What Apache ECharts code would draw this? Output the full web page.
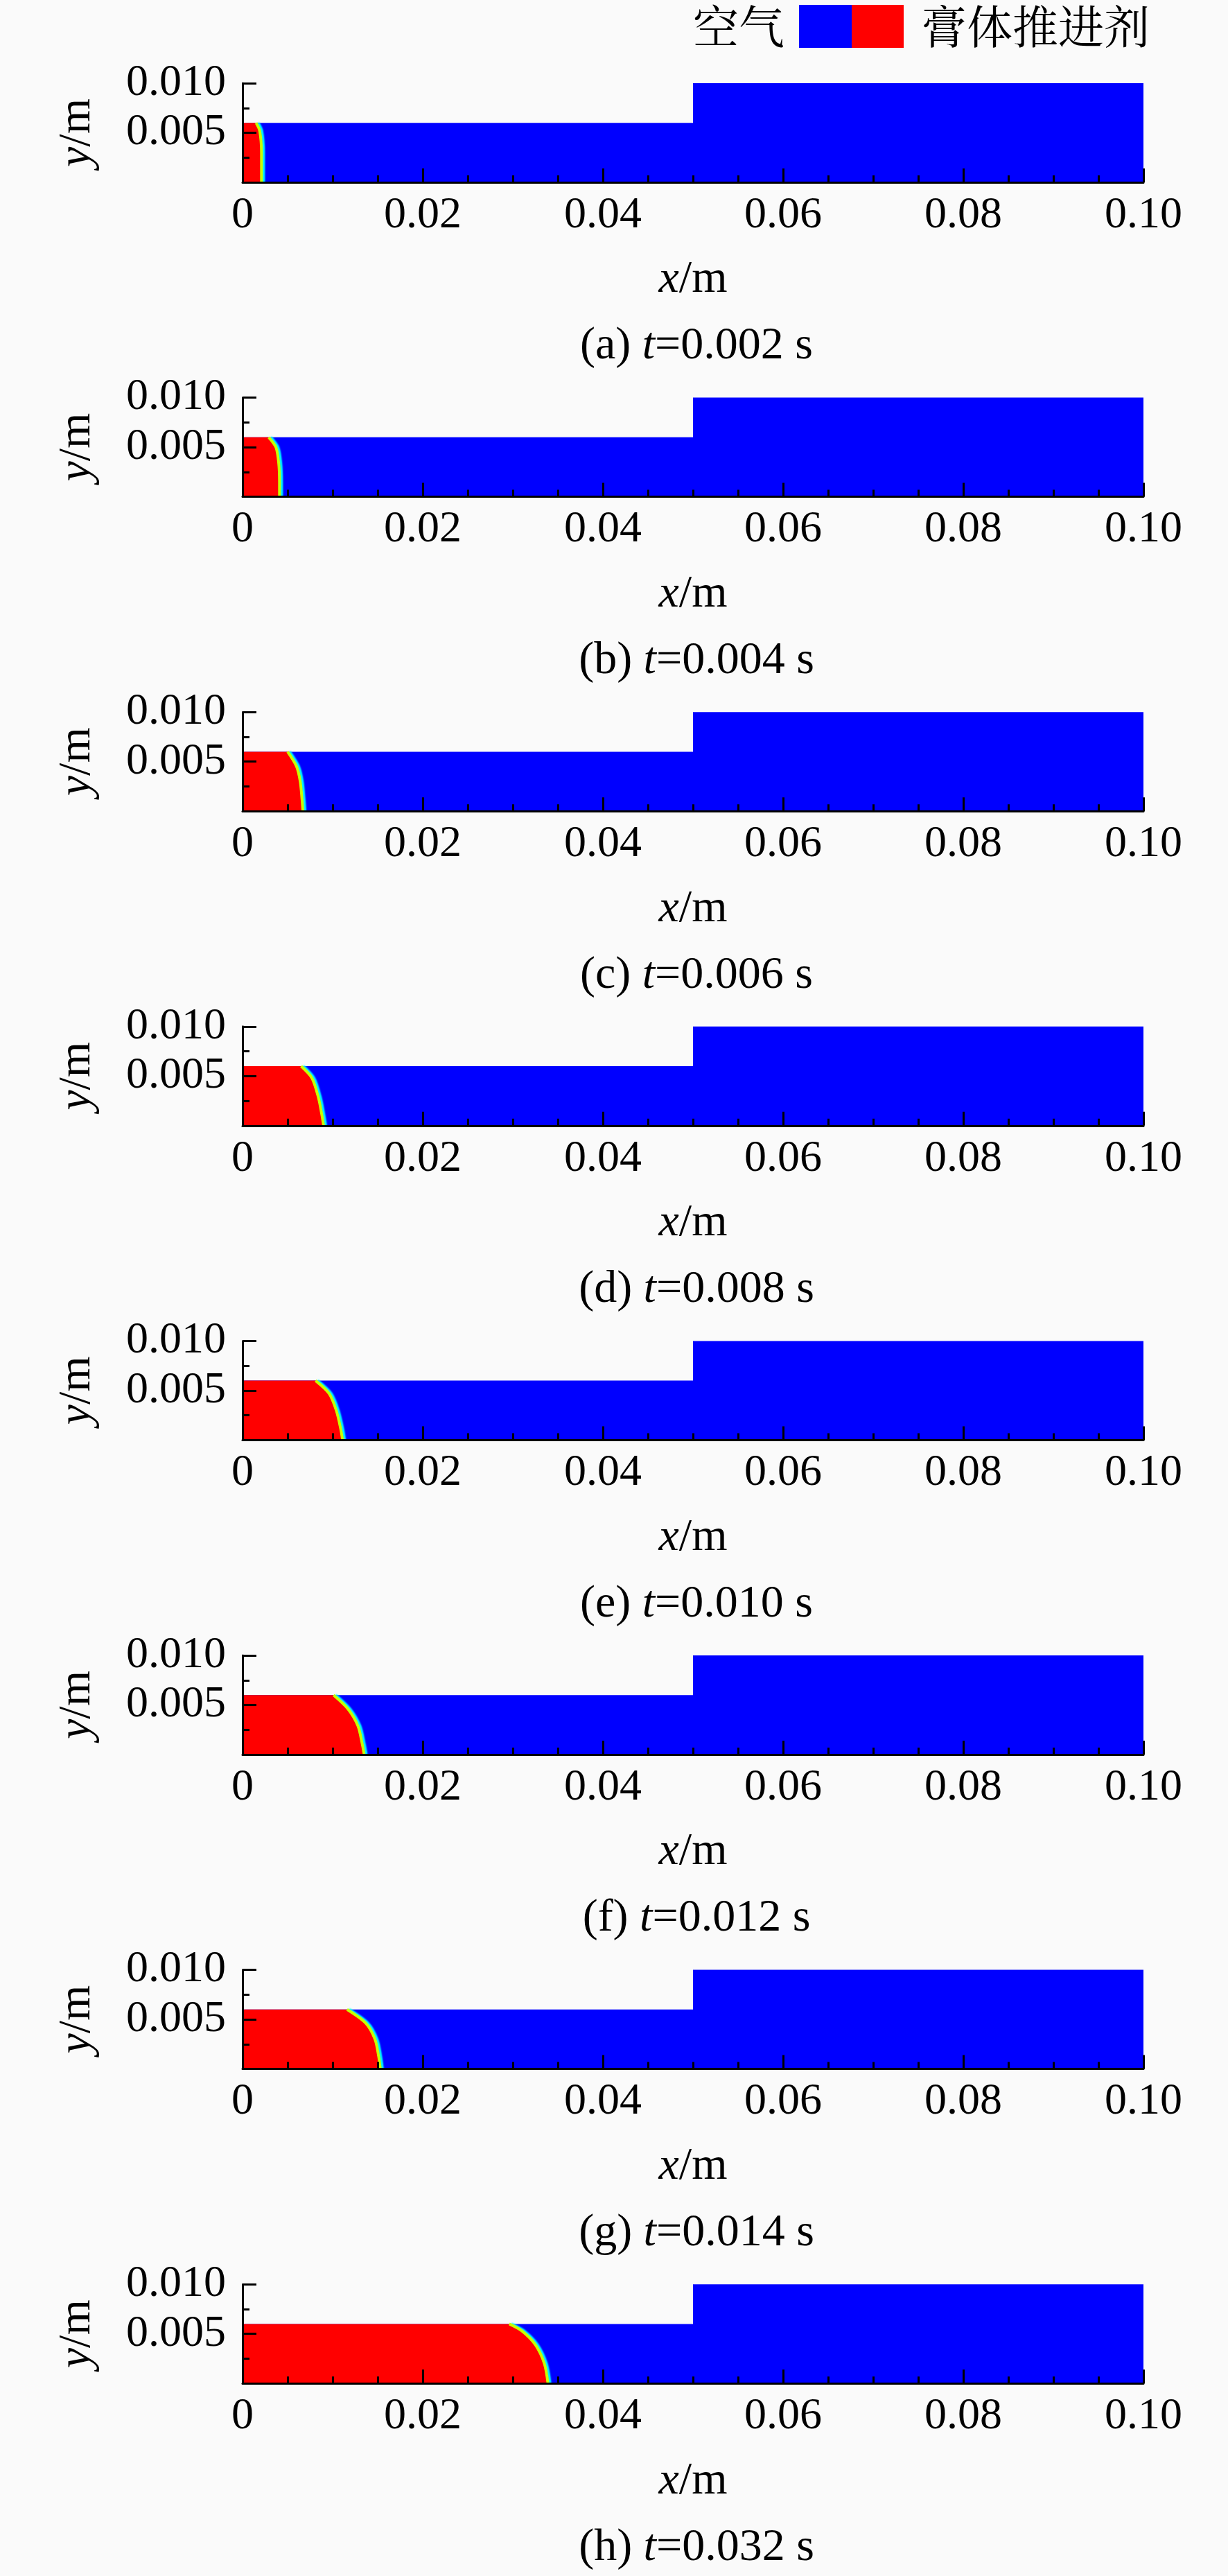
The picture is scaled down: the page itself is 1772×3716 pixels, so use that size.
<!DOCTYPE html>
<html>
<head>
<meta charset="utf-8">
<title>膏体推进剂充填过程</title>
<script src="https://cdn.jsdelivr.net/npm/echarts@6/dist/echarts.min.js"></script>
<style>
  html, body { margin: 0; padding: 0; background: #fafafa; }
  #chart { width: 1772px; height: 3716px; }
</style>
</head>
<body>
<div id="chart"></div>
<script>
// 各时刻的子图标号与时间
const panelTags = ['a', 'b', 'c', 'd', 'e', 'f', 'g', 'h'];
const panelTimes = ['0.002', '0.004', '0.006', '0.008', '0.010', '0.012', '0.014', '0.032'];

// 流道外形 (台阶管道)
const wallX = [0, 0.05, 0.05, 0.1];
const wallY = [0.006, 0.006, 0.01, 0.01];

// 推进剂上表面高度
const fillTop = 0.006;

// 推进剂前沿 [x, y]
const frontA = [[0.0015, 0.006], [0.0019, 0.0052], [0.0021, 0.0030], [0.0021, 0.0]];
const frontB = [[0.0029, 0.006], [0.0037, 0.0050], [0.0040, 0.0035], [0.0041, 0.0015], [0.0041, 0.0]];
const frontC = [[0.0050, 0.006], [0.0060, 0.0045], [0.0064, 0.0030], [0.0066, 0.0012], [0.0067, 0.0]];
const frontD = [[0.0065, 0.006], [0.0077, 0.0048], [0.0084, 0.0029], [0.0088, 0.0011], [0.0090, 0.0]];
const frontE = [[0.0081, 0.006], [0.0096, 0.0047], [0.0104, 0.0030], [0.0109, 0.0011], [0.0111, 0.0]];
const frontF = [[0.0101, 0.006], [0.0117, 0.0046], [0.0128, 0.0029], [0.0133, 0.0010], [0.0135, 0.0]];
const frontG = [[0.0116, 0.006], [0.0137, 0.0046], [0.0147, 0.0030], [0.0151, 0.0013], [0.0153, 0.0]];
const frontH = [[0.0296, 0.006], [0.0310, 0.0053], [0.0325, 0.0039], [0.0335, 0.0020], [0.0339, 0.0]];
const fronts = [frontA, frontB, frontC, frontD, frontE, frontF, frontG, frontH];

const serif = "'Liberation Serif', 'Times New Roman', serif";
const cjk = "'Noto Serif CJK SC', 'Noto Sans CJK SC', serif";

var myChart = echarts.init(document.getElementById('chart'));

var grids = [], xAxes = [], yAxes = [], series = [], titles = [];
var wall = wallX.map(function (x, k) { return [x, wallY[k]]; });

panelTags.forEach(function (tag, i) {
    var top = 120 + i * 453.6;
    grids.push({ left: 350, width: 1300, top: top, height: 143 });

    xAxes.push({
        gridIndex: i, type: 'value', min: 0, max: 0.1, interval: 0.02, z: 10,
        axisLine: { lineStyle: { color: '#000', width: 3 } },
        axisTick: { inside: true, length: 20, lineStyle: { color: '#000', width: 3 } },
        minorTick: { show: true, splitNumber: 4, length: 10, lineStyle: { color: '#000', width: 3 } },
        splitLine: { show: false },
        axisLabel: {
            margin: 16, fontSize: 64, fontFamily: serif, color: '#000',
            formatter: function (v) { return v === 0 ? '0' : v.toFixed(2); }
        },
        name: '{i|x}/m', nameLocation: 'middle', nameGap: 108,
        nameTextStyle: {
            fontSize: 66, fontFamily: serif, color: '#000',
            rich: { i: { fontSize: 66, fontFamily: serif, fontStyle: 'italic', color: '#000' } }
        }
    });

    yAxes.push({
        gridIndex: i, type: 'value', min: 0, max: 0.01, interval: 0.005, z: 10,
        axisLine: { lineStyle: { color: '#000', width: 3 } },
        axisTick: { inside: true, length: 20, lineStyle: { color: '#000', width: 3 } },
        minorTick: { show: true, splitNumber: 2, length: 10, lineStyle: { color: '#000', width: 3 } },
        splitLine: { show: false },
        axisLabel: {
            margin: 24, fontSize: 64, fontFamily: serif, color: '#000',
            formatter: function (v) { return v === 0 ? '' : v.toFixed(3); }
        },
        name: '{i|y}/m', nameLocation: 'middle', nameGap: 205,
        nameTextStyle: {
            fontSize: 66, fontFamily: serif, color: '#000',
            rich: { i: { fontSize: 66, fontFamily: serif, fontStyle: 'italic', color: '#000' } }
        }
    });

    // 空气 (整个流道)
    series.push({
        name: '空气', type: 'line', xAxisIndex: i, yAxisIndex: i,
        data: wall, symbol: 'none', silent: true, animation: false, z: 2,
        lineStyle: { opacity: 0 },
        itemStyle: { color: '#0000ff' },
        areaStyle: { color: '#0000ff', opacity: 1 }
    });
    // 膏体推进剂
    series.push({
        name: '膏体推进剂', type: 'line', xAxisIndex: i, yAxisIndex: i,
        data: [[0, fillTop]].concat(fronts[i]), symbol: 'none', smooth: 0.3,
        silent: true, animation: false, z: 3,
        lineStyle: { opacity: 0 },
        itemStyle: { color: '#ff0000' },
        areaStyle: { color: '#ff0000', opacity: 1 }
    });
    // 界面过渡带
    series.push({
        name: 'front', type: 'line', xAxisIndex: i, yAxisIndex: i,
        data: fronts[i], symbol: 'none', smooth: 0.3,
        silent: true, animation: false, z: 4,
        lineStyle: { color: '#c8ff00', width: 4, shadowColor: '#00ffff', shadowOffsetX: 3, shadowBlur: 2 }
    });

    titles.push({
        text: '(' + tag + ') {i|t}=' + panelTimes[i] + ' s',
        left: 1000, textAlign: 'center', top: top + 342,
        textStyle: {
            fontSize: 66, fontFamily: serif, fontWeight: 'normal', color: '#000',
            rich: { i: { fontSize: 66, fontFamily: serif, fontStyle: 'italic', color: '#000' } }
        }
    });
});

var option = {
    backgroundColor: '#fafafa',
    animation: false,
    title: titles,
    legend: [{
        left: 1000, top: 5, padding: 0, align: 'right', icon: 'rect',
        itemWidth: 76, itemHeight: 62, selectedMode: false,
        data: [{ name: '空气', itemStyle: { color: '#0000ff', borderWidth: 0 } }],
        textStyle: { fontSize: 66, fontFamily: cjk, color: '#000', padding: [0, 16, 0, 0] }
    }, {
        left: 1229, top: 5, padding: 0, align: 'left', icon: 'rect',
        itemWidth: 75, itemHeight: 62, selectedMode: false,
        data: [{ name: '膏体推进剂', itemStyle: { color: '#ff0000', borderWidth: 0 } }],
        textStyle: { fontSize: 66, fontFamily: cjk, color: '#000', padding: [0, 0, 0, 20] }
    }],
    grid: grids,
    xAxis: xAxes,
    yAxis: yAxes,
    series: series
};
myChart.setOption(option);
</script>
</body>
</html>
